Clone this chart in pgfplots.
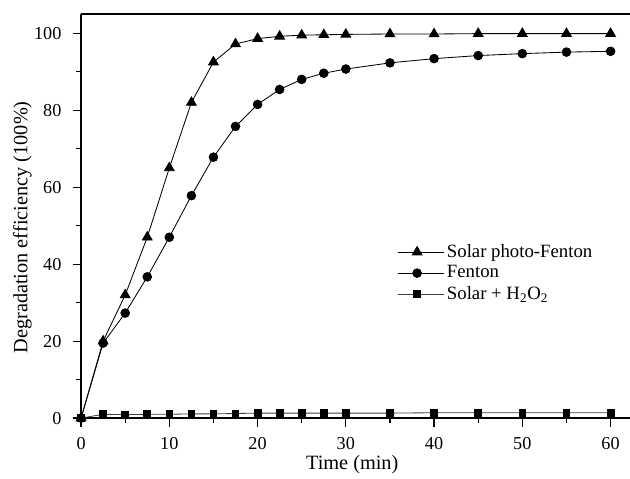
\documentclass[border=0pt]{standalone}
\usepackage{fontspec}
\setmainfont{Liberation Serif}
\usepackage{pgfplots}
\pgfplotsset{compat=1.18}
\begin{document}
\fontsize{13}{15}\selectfont
\begin{tikzpicture}
\begin{axis}[
  at={(0,0)}, anchor=south west,
  scale only axis,
  width=392pt, height=288.6pt,
  xmin=0, xmax=62.2, ymin=0, ymax=105,
  axis x line*=bottom, axis y line*=left,
  axis line style={-, line width=1.1pt},
  xtick={0,10,...,60}, ytick={0,20,...,100},
  minor x tick num=1, minor y tick num=1,
  tick align=outside,
  major tick length=6pt, minor tick length=3.5pt,
  tick style={line width=0.9pt, black},
  /pgf/number format/assume math mode=true,
  ticklabel style={font=\fontsize{13}{15}\selectfont},
  xticklabel style={yshift=-3pt},
  yticklabel style={xshift=-3.5pt},
  xlabel={Time (min)}, ylabel={Degradation efficiency (100\%)},
  label style={font=\fontsize{14.5}{17}\selectfont},
  xlabel style={at={(axis description cs:0.494,-0.115)}, anchor=center},
  ylabel style={at={(axis description cs:-0.107,0.472)}, anchor=center},
  legend style={draw=none, fill=none, at={(axis cs:35.3,46.7)}, anchor=north west,
    font=\fontsize{13.4}{16}\selectfont, cells={anchor=west}},
  legend image code/.code={\path (0pt,0pt) -- (33pt,0pt);\draw[mark repeat=2,mark phase=2,#1] plot coordinates {(0pt,0pt) (14pt,0pt) (28pt,0pt)};},
]
\addplot[black, line width=0.6pt, mark=triangle*, mark size=4pt, mark options={solid, fill=black}] coordinates {
(0,0) (2.5,20) (5,32) (7.5,47) (10,65) (12.5,82) (15,92.5) (17.5,97.2) (20,98.6) (22.5,99.2) (25,99.5) (27.5,99.6) (30,99.7) (35,99.8) (40,99.8) (45,99.9) (50,99.9) (55,99.9) (60,99.9)
};
\addlegendentry{Solar photo-Fenton}
\addplot[black, line width=0.6pt, mark=*, mark size=3.1pt, mark options={solid, fill=black}] coordinates {
(0,0) (2.5,19.5) (5,27.3) (7.5,36.7) (10,47) (12.5,57.8) (15,67.8) (17.5,75.8) (20,81.5) (22.5,85.4) (25,88) (27.5,89.6) (30,90.7) (35,92.3) (40,93.4) (45,94.2) (50,94.7) (55,95.1) (60,95.3)
};
\addlegendentry{Fenton}
\addplot[black!75, line width=0.6pt, mark=square*, mark size=2.4pt, mark options={solid, fill=black, draw=black}] coordinates {
(0,0) (2.5,1.0) (5,0.9) (7.5,1.0) (10,1.0) (12.5,1.1) (15,1.1) (17.5,1.2) (20,1.3) (22.5,1.3) (25,1.3) (27.5,1.3) (30,1.3) (35,1.3) (40,1.4) (45,1.4) (50,1.4) (55,1.4) (60,1.4)
};
\addlegendentry{Solar + H\textsubscript{2}O\textsubscript{2}}
\draw[line width=1.1pt] (rel axis cs:0,1) -- (rel axis cs:1,1);
\end{axis}
\pgfresetboundingbox
\path[use as bounding box] (-57.9pt,-42.8pt) rectangle (392pt,298.6pt);
\end{tikzpicture}
\end{document}
